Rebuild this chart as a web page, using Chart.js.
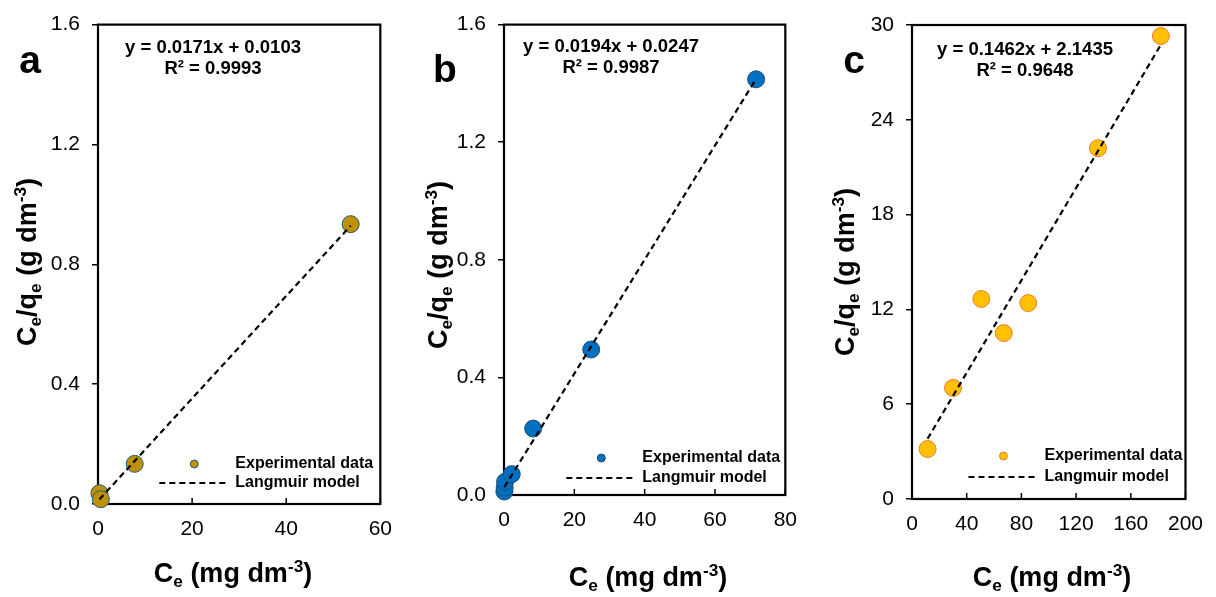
<!DOCTYPE html>
<html>
<head>
<meta charset="utf-8">
<script src="https://cdn.jsdelivr.net/npm/chart.js@4.4.1/dist/chart.umd.min.js"></script>
<style>
  html, body { margin: 0; padding: 0; background: #fff; }
  #wrap { position: relative; width: 1216px; height: 597px; }
  canvas { position: absolute; top: 0; }
</style>
</head>
<body>
<div id="wrap">
  <canvas id="panelA" width="405" height="597" style="left:0px"></canvas>
  <canvas id="panelB" width="405" height="597" style="left:405px"></canvas>
  <canvas id="panelC" width="406" height="597" style="left:810px"></canvas>
</div>
<script>
// isotherm data: Ce (mg dm-3) vs Ce/qe (g dm-3)
var ceA = [0.3, 0.6, 7.8, 53.7];
var ratioA = [0.036, 0.016, 0.134, 0.934];
var ceB = [0.1, 0.2, 0.3, 2.2, 8.3, 24.8, 71.7];
var ratioB = [0.012, 0.025, 0.045, 0.071, 0.226, 0.495, 1.414];
var ceC = [11.4, 30.0, 50.7, 67.1, 85.0, 136.0, 182.0];
var ratioC = [3.16, 7.03, 12.66, 10.5, 12.4, 22.2, 29.3];

// linear fits (slope, intercept, R2)
var slopes = [0.0171, 0.0194, 0.1462];
var intercepts = [0.0103, 0.0247, 2.1435];
var r2 = ['0.9993', '0.9987', '0.9648'];

// tick labels
var xTicksA = [0, 20, 40, 60];
var yTicksA = [0, 0.4, 0.8, 1.2, 1.6];
var xTicksB = [0, 20, 40, 60, 80];
var yTicksB = [0, 0.4, 0.8, 1.2, 1.6];
var xTicksC = [0, 40, 80, 120, 160, 200];
var yTicksC = [0, 6, 12, 18, 24, 30];

var seriesLabels = ['Experimental data', 'Langmuir model'];
var panelLetters = ['a', 'b', 'c'];

var FONT = "'Liberation Sans', Arial, sans-serif";
Chart.defaults.font.family = FONT;
Chart.defaults.color = '#000';

var xTitle = [{t: 'C'}, {t: 'e', sub: true}, {t: ' (mg dm'}, {t: '-3', sup: true}, {t: ')'}];
var yTitle = [{t: 'C'}, {t: 'e', sub: true}, {t: '/q'}, {t: 'e', sub: true}, {t: ' (g dm'}, {t: '-3', sup: true}, {t: ')'}];

// text with sub/superscripts, centred on x at baseline y
function richWidth(ctx, parts, size) {
  var w = 0;
  parts.forEach(function (p) {
    var s = (p.sub || p.sup) ? size * 0.64 : size;
    ctx.font = 'bold ' + s + 'px ' + FONT;
    w += ctx.measureText(p.t).width;
  });
  return w;
}
function drawRich(ctx, parts, cx, y, size) {
  var x = cx - richWidth(ctx, parts, size) / 2;
  ctx.textAlign = 'left';
  ctx.textBaseline = 'alphabetic';
  parts.forEach(function (p) {
    var s = (p.sub || p.sup) ? size * 0.64 : size;
    var dy = p.sub ? size * 0.2 : (p.sup ? -size * 0.36 : 0);
    ctx.font = 'bold ' + s + 'px ' + FONT;
    ctx.fillText(p.t, x, y + dy);
    x += ctx.measureText(p.t).width;
  });
}

var decor = {
  id: 'decor',
  beforeDatasetsDraw: function (chart, args, o) {
    var ctx = chart.ctx, a = chart.chartArea;
    ctx.save();
    // inward ticks on x axis
    var xs = chart.scales.x;
    ctx.strokeStyle = '#000';
    ctx.lineWidth = 1.5;
    xs.ticks.forEach(function (t) {
      var px = xs.getPixelForValue(t.value);
      ctx.beginPath();
      ctx.moveTo(px, a.bottom);
      ctx.lineTo(px, a.bottom - 6);
      ctx.stroke();
    });
    // frame
    ctx.lineWidth = 2.2;
    ctx.strokeRect(a.left, a.top, a.right - a.left, a.bottom - a.top);
    ctx.restore();
  },
  afterDraw: function (chart, args, o) {
    var ctx = chart.ctx, a = chart.chartArea;
    ctx.save();
    ctx.fillStyle = '#000';
    // axis titles
    drawRich(ctx, xTitle, o.xTitleX, o.xTitleY, 27);
    ctx.save();
    ctx.translate(o.yTitleX, o.yTitleY);
    ctx.rotate(-Math.PI / 2);
    drawRich(ctx, yTitle, 0, 0, 27);
    ctx.restore();
    // panel letter
    ctx.font = 'bold 39px ' + FONT;
    ctx.textAlign = 'center';
    ctx.textBaseline = 'alphabetic';
    ctx.fillText(o.letter, o.letterX, o.letterY);
    // fit equation
    ctx.font = 'bold 18.5px ' + FONT;
    ctx.textBaseline = 'middle';
    ctx.fillText(o.eq, o.eqX, o.eqY);
    ctx.fillText(o.r2, o.eqX, o.eqY + 21);
    // legend drawn from dataset styles
    var ds = chart.data.datasets;
    var tx = a.right - o.legRight;
    ctx.textAlign = 'left';
    ctx.font = 'bold 16px ' + FONT;
    var y1 = a.bottom - o.legRow1, y2 = a.bottom - o.legRow2;
    ctx.beginPath();
    ctx.arc(tx - 41, y1, 4, 0, Math.PI * 2);
    ctx.fillStyle = ds[0].backgroundColor;
    ctx.fill();
    ctx.lineWidth = 1;
    ctx.strokeStyle = ds[0].borderColor;
    ctx.stroke();
    ctx.beginPath();
    ctx.setLineDash(ds[1].borderDash);
    ctx.lineWidth = ds[1].borderWidth;
    ctx.strokeStyle = ds[1].borderColor;
    ctx.moveTo(tx - 76, y2);
    ctx.lineTo(tx - 8, y2);
    ctx.stroke();
    ctx.setLineDash([]);
    ctx.fillStyle = '#000';
    ctx.fillText(ds[0].label, tx, y1);
    ctx.fillText(ds[1].label, tx, y2);
    ctx.restore();
  }
};

function makePanel(id, ce, ratio, k, xTicks, yTicks, colors, box, extra) {
  var xMin = Math.min.apply(null, ce), xMax = Math.max.apply(null, ce);
  var pts = ce.map(function (x, i) { return {x: x, y: ratio[i]}; });
  var fit = [xMin, xMax].map(function (x) { return {x: x, y: slopes[k] * x + intercepts[k]}; });
  var yDigits = yTicks[yTicks.length - 1] < 5 ? 1 : 0;
  var opts = Object.assign({
    letter: panelLetters[k],
    eq: 'y = ' + slopes[k].toFixed(4) + 'x + ' + intercepts[k].toFixed(4),
    r2: 'R\u00b2 = ' + r2[k],
    legRight: 145, legRow1: 40, legRow2: 21
  }, extra);

  new Chart(document.getElementById(id), {
    type: 'scatter',
    data: {
      datasets: [{
        label: seriesLabels[0],
        data: pts,
        backgroundColor: colors[0],
        borderColor: colors[1],
        borderWidth: 1,
        pointRadius: 8.5,
        order: 1,
        clip: false
      }, {
        type: 'line',
        label: seriesLabels[1],
        data: fit,
        showLine: true,
        borderColor: '#000',
        borderWidth: 2.2,
        borderDash: [6, 4],
        pointRadius: 0,
        fill: false,
        order: 0,
        clip: false
      }]
    },
    options: {
      responsive: false,
      animation: false,
      devicePixelRatio: 1,
      layout: { padding: { left: 0, top: box.top, right: box.right, bottom: 0 } },
      plugins: { legend: { display: false }, tooltip: { enabled: false }, decor: opts },
      scales: {
        x: {
          type: 'linear',
          min: xTicks[0], max: xTicks[xTicks.length - 1],
          afterBuildTicks: function (s) { s.ticks = xTicks.map(function (v) { return {value: v}; }); },
          afterFit: function (s) { s.height = box.bottomArea; },
          grid: { display: false, drawTicks: false },
          border: { display: false },
          ticks: { padding: 13, font: { size: 21 }, color: '#000', maxRotation: 0 }
        },
        y: {
          type: 'linear',
          min: yTicks[0], max: yTicks[yTicks.length - 1],
          afterBuildTicks: function (s) { s.ticks = yTicks.map(function (v) { return {value: v}; }); },
          afterFit: function (s) { s.width = box.left; },
          grid: { drawOnChartArea: false, drawTicks: true, tickLength: 6, color: '#000', lineWidth: 1.5 },
          border: { display: false },
          ticks: {
            padding: 12, font: { size: 21 }, color: '#000',
            callback: function (v) { return v.toFixed(yDigits); }
          }
        }
      }
    },
    plugins: [decor]
  });
}

makePanel('panelA', ceA, ratioA, 0, xTicksA, yTicksA, ['#BF9000', '#1F5F7A'],
  {left: 98, top: 16, right: 22, bottomArea: 93},
  {xTitleX: 233, xTitleY: 582, yTitleX: 36, yTitleY: 262, letterX: 30, letterY: 73,
   eqX: 213, eqY: 48, legRight: 145, legRow1: 40, legRow2: 21});

makePanel('panelB', ceB, ratioB, 1, xTicksB, yTicksB, ['#0070C0', '#1F4E79'],
  {left: 99, top: 20, right: 17, bottomArea: 102},
  {xTitleX: 243, xTitleY: 586, yTitleX: 42, yTitleY: 265, letterX: 40, letterY: 82,
   eqX: 206, eqY: 47, legRight: 143, legRow1: 37, legRow2: 17});

makePanel('panelC', ceC, ratioC, 2, xTicksC, yTicksC, ['#FFC000', '#ED7D31'],
  {left: 102, top: 25, right: 24, bottomArea: 98},
  {xTitleX: 242, xTitleY: 586, yTitleX: 44, yTitleY: 272, letterX: 44, letterY: 73,
   eqX: 215, eqY: 50, legRight: 141, legRow1: 43, legRow2: 22});
</script>
</body>
</html>
